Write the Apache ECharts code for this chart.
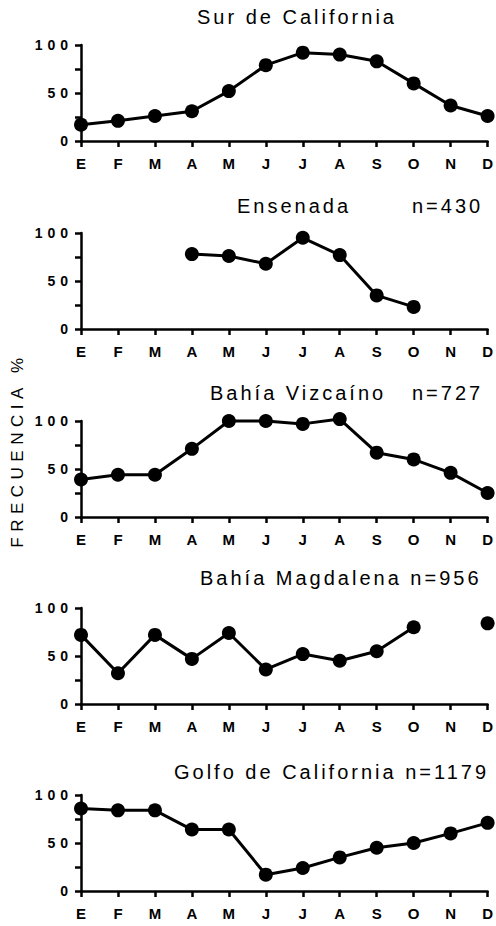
<!DOCTYPE html>
<html>
<head>
<meta charset="utf-8">
<title>Frecuencia mensual</title>
<script src="https://cdn.jsdelivr.net/npm/echarts@6.0.0/dist/echarts.min.js"></script>
<style>
	html, body { margin: 0; padding: 0; background: #fff; }
	#main { width: 496px; height: 926px; }
	/* the original type is set very wide, svg text takes css letter-spacing */
	#main text[style*="20px"] { letter-spacing: 3px; }
	#main text[style*="14px"] { letter-spacing: 5px; }
	#main text[style*="17px"] { letter-spacing: 5.5px; }
</style>
</head>
<body>
<div id="main"></div>
<script>
var months = ['E','F','M','A','M','J','J','A','S','O','N','D'];

var panelNames = ['Sur de California','Ensenada','Bahía Vizcaíno','Bahía Magdalena','Golfo de California'];
var panelN = [null, 430, 727, 956, 1179];

var surCalifornia = [17, 21, 26, 31, 52, 79, 92, 90, 83, 60, 37, 26];
var ensenada      = [null, null, null, 78, 76, 68, 95, 77, 35, 23, null, null];
var bahiaVizcaino = [39, 44, 44, 71, 100, 100, 97, 102, 67, 60, 46, 25];
var bahiaMagdalena= [72, 32, 72, 47, 74, 36, 52, 45, 55, 80, null, 84];
var golfoCalifornia = [86, 84, 84, 64, 64, 17, 24, 35, 45, 50, 60, 71];

var yTicks = [0, 25, 50, 75, 100];
var yLabeled = [0, 50, 100];

var panelData = [surCalifornia, ensenada, bahiaVizcaino, bahiaMagdalena, golfoCalifornia];

// layout
var gridTops = [45, 233, 421, 608, 795];
var gridH = 96;
var nameLeft = [197, 237, 210, 200, 174];
var nLeft = [null, 412, 412, null, null];   // null -> n goes on the same line as the name
var titleTop = [7, 196, 383, 568, 762];
var FONT = "'Liberation Sans', Arial, sans-serif";

var myChart = echarts.init(document.getElementById('main'), null, {renderer: 'svg'});

var grids = [], xAxes = [], yAxes = [], series = [], titles = [];
var titleStyle = {fontSize: 20, fontWeight: 'normal', color: '#000', fontFamily: FONT};

for (var i = 0; i < panelData.length; i++) {
	grids.push({left: 81, right: 7, top: gridTops[i], height: gridH});

	xAxes.push({
		gridIndex: i,
		type: 'category',
		data: months,
		boundaryGap: false,
		axisLine: {lineStyle: {color: '#000', width: 2.5}},
		axisTick: {length: 6, lineStyle: {color: '#000', width: 2.5}},
		axisLabel: {interval: 0, margin: 15, color: '#000', fontSize: 15, fontWeight: 'bold', fontFamily: FONT},
		splitLine: {show: false}
	});

	yAxes.push({
		gridIndex: i,
		type: 'value',
		min: yTicks[0],
		max: yTicks[yTicks.length - 1],
		interval: yTicks[1] - yTicks[0],
		axisLine: {show: true, lineStyle: {color: '#000', width: 2.5}},
		axisTick: {show: true, length: 6, lineStyle: {color: '#000', width: 2.5}},
		axisLabel: {
			margin: 8, color: '#000', fontSize: 14, fontWeight: 'bold', fontFamily: FONT,
			formatter: function(v) { return yLabeled.indexOf(v) >= 0 ? String(v) : ''; }
		},
		splitLine: {show: false}
	});

	series.push({
		type: 'line',
		xAxisIndex: i,
		yAxisIndex: i,
		data: panelData[i],
		symbol: 'circle',
		symbolSize: 14,
		showAllSymbol: true,
		connectNulls: false,
		clip: false,
		lineStyle: {color: '#000', width: 3},
		itemStyle: {color: '#000', borderWidth: 0}
	});

	var txt = panelNames[i];
	if (panelN[i] != null && nLeft[i] == null) {
		txt = txt + ' n=' + panelN[i];
	}
	titles.push({text: txt, left: nameLeft[i], top: titleTop[i], padding: 0, textStyle: titleStyle});
	if (panelN[i] != null && nLeft[i] != null) {
		titles.push({text: 'n=' + panelN[i], left: nLeft[i], top: titleTop[i], padding: 0, textStyle: titleStyle});
	}
}

myChart.setOption({
	animation: false,
	backgroundColor: '#fff',
	title: titles,
	grid: grids,
	xAxis: xAxes,
	yAxis: yAxes,
	series: series,
	graphic: [{
		type: 'text',
		x: 17,
		y: 450,
		rotation: Math.PI / 2,
		style: {
			text: 'FRECUENCIA %',
			fontSize: 17,
			fontFamily: FONT,
			fill: '#000',
			align: 'center',
			verticalAlign: 'middle'
		}
	}]
});
</script>
</body>
</html>
